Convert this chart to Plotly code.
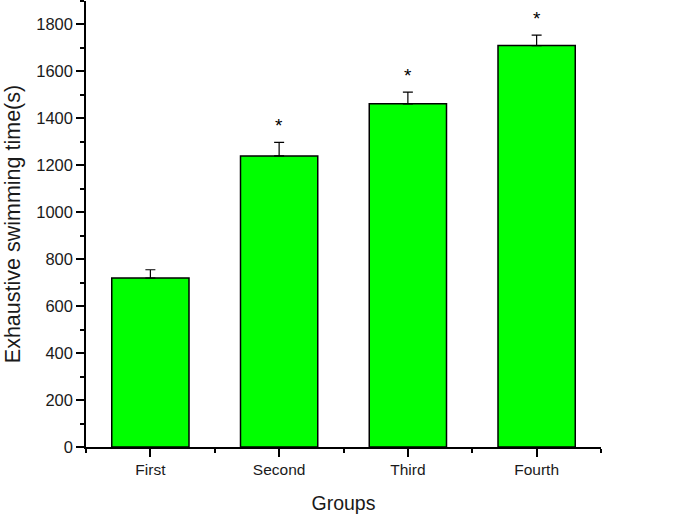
import plotly.graph_objects as go

# data
groups = ["First", "Second", "Third", "Fourth"]
times = [720, 1240, 1462, 1710]
errors = [35, 58, 50, 45]
marks = ["", "*", "*", "*"]

xpos = list(range(len(groups)))

fig = go.Figure()
fig.add_trace(go.Bar(
    x=xpos, y=times, width=0.6,
    marker=dict(color="#00ff00", line=dict(color="black", width=1.5)),
    error_y=dict(type="data", array=errors, arrayminus=[0] * len(errors),
                 symmetric=False, color="black", thickness=1.2, width=5),
    showlegend=False,
))

# significance stars above the error bars
for x, t, e, m in zip(xpos, times, errors, marks):
    if m:
        fig.add_annotation(x=x, y=t + e, text=m, showarrow=False, yshift=17,
                           font=dict(size=19, color="black"))

font_family = "Liberation Sans, Arial, sans-serif"
fig.update_xaxes(
    range=[-0.5, 3.5], tickvals=xpos, ticktext=groups, automargin=False,
    showline=True, linecolor="black", linewidth=1.5,
    ticks="outside", ticklen=8, tickwidth=1.5, tickcolor="black",
    minor=dict(ticks="outside", ticklen=4, tickwidth=1.5, tickcolor="black",
               tick0=0.5, dtick=1),
    showgrid=False, zeroline=False,
    tickfont=dict(family=font_family, size=15.5, color="#1a1a1a"),
    title=dict(text="Groups", font=dict(size=19.5, color="#1a1a1a"), standoff=19),
)
fig.update_yaxes(
    range=[0, 1900], dtick=200, tick0=0, automargin=False,
    showline=True, linecolor="black", linewidth=1.5,
    ticks="outside", ticklen=8, tickwidth=1.5, tickcolor="black",
    minor=dict(ticks="outside", ticklen=4, tickwidth=1.5, tickcolor="black", dtick=100),
    showgrid=False, zeroline=False,
    tickfont=dict(family=font_family, size=16.5, color="#1a1a1a"),
    title=dict(text="Exhaustive swimming time(s)", font=dict(size=21.5, color="#1a1a1a"), standoff=10),
)
fig.update_layout(
    width=691, height=516,
    margin=dict(l=86, r=90, t=1, b=69),
    plot_bgcolor="white", paper_bgcolor="white",
    font=dict(family=font_family),
)
# drop the page's default body margin so the figure sits at the window corner
fig.write_html("out.html", config={"displayModeBar": False},
               post_script="document.body.style.margin='0';")
